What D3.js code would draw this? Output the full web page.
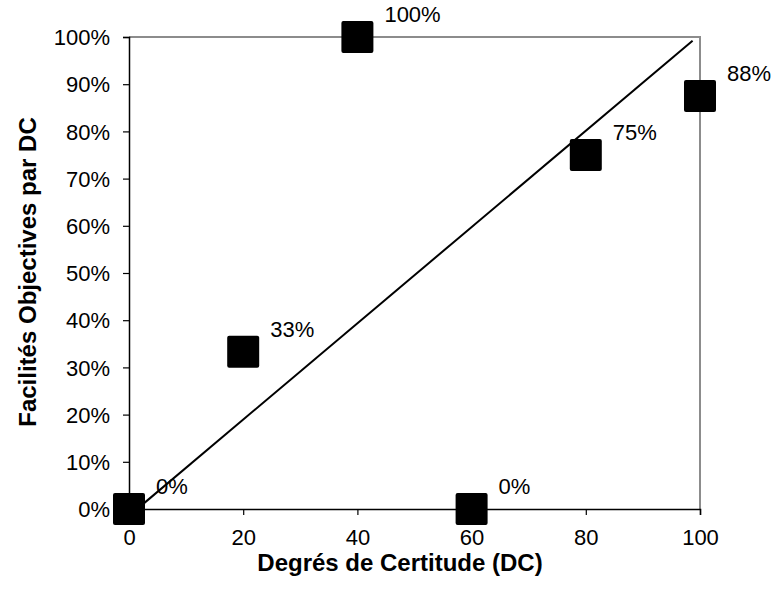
<!DOCTYPE html>
<html><head><meta charset="utf-8">
<script src="https://cdn.jsdelivr.net/npm/d3@7"></script>
<style>body{margin:0;background:#fff}svg{display:block}text{font-family:"Liberation Sans",Arial,sans-serif}</style>
</head><body><svg id="c" width="780" height="591"></svg>
<script>
const xValues = [0, 20, 40, 60, 80, 100];
const yValues = [0, 0.3333, 1.0, 0, 0.75, 0.875];
const pointLabels = ["0%", "33%", "100%", "0%", "75%", "88%"];
const diagonalX = [2.7, 98.7];
const diagonalY = [0.013, 0.992];
const xTicks = [0, 20, 40, 60, 80, 100];
const yTicks = [0, 0.1, 0.2, 0.3, 0.4, 0.5, 0.6, 0.7, 0.8, 0.9, 1.0];
const xTitle = "Degrés de Certitude (DC)";
const yTitle = "Facilités Objectives par DC";

const svg = d3.select("#c");
const L = 129, R = 700, T = 37, B = 509;
const x = d3.scaleLinear().domain([0, 100]).range([L, R]);
const y = d3.scaleLinear().domain([0, 1]).range([B, T]);

svg.append("path").attr("d", `M${L},${T}H${R}V${B}`).attr("fill", "none")
  .attr("stroke", "#8c8c8c").attr("stroke-width", 2);

const xa = svg.append("g").attr("transform", `translate(0,${B})`)
  .call(d3.axisBottom(x).tickValues(xTicks).tickSize(6).tickPadding(14).tickFormat(d3.format("d")));
const ya = svg.append("g").attr("transform", `translate(${L},0)`)
  .call(d3.axisLeft(y).tickValues(yTicks).tickSize(6).tickPadding(13).tickFormat(d3.format(".0%")));
[xa, ya].forEach(a => {
  a.select(".domain").attr("stroke", "#000").attr("stroke-width", 1.5);
  a.selectAll(".tick line").attr("stroke", "#000").attr("stroke-width", 1.2);
  a.selectAll("text").attr("font-size", 22).attr("fill", "#000")
    .style("font-family", '"Liberation Sans",Arial,sans-serif');
});
ya.selectAll("text").attr("dy", "0.35em");

const line = d3.line().x(d => x(d[0])).y(d => y(d[1]));
svg.append("path").datum(diagonalX.map((v, i) => [v, diagonalY[i]]))
  .attr("d", line).attr("stroke", "#000").attr("stroke-width", 2).attr("fill", "none");

const pts = xValues.map((v, i) => ({x: v, y: yValues[i], label: pointLabels[i]}));
const S = 32;
svg.append("g").selectAll("rect").data(pts).join("rect")
  .attr("x", d => x(d.x) - S / 2).attr("y", d => y(d.y) - S / 2)
  .attr("width", S).attr("height", S).attr("rx", 2).attr("fill", "#000");

svg.append("g").selectAll("text").data(pts).join("text")
  .attr("x", d => x(d.x) + 27).attr("y", d => y(d.y) - 15)
  .attr("font-size", 22).attr("fill", "#000").text(d => d.label);

svg.append("text").attr("x", 400).attr("y", 571).attr("text-anchor", "middle")
  .attr("font-size", 24).attr("font-weight", "bold").text(xTitle);
svg.append("text").attr("transform", `translate(36,${(T + B) / 2 - 1}) rotate(-90)`)
  .attr("text-anchor", "middle").attr("font-size", 24).attr("font-weight", "bold").text(yTitle);
</script></body></html>
